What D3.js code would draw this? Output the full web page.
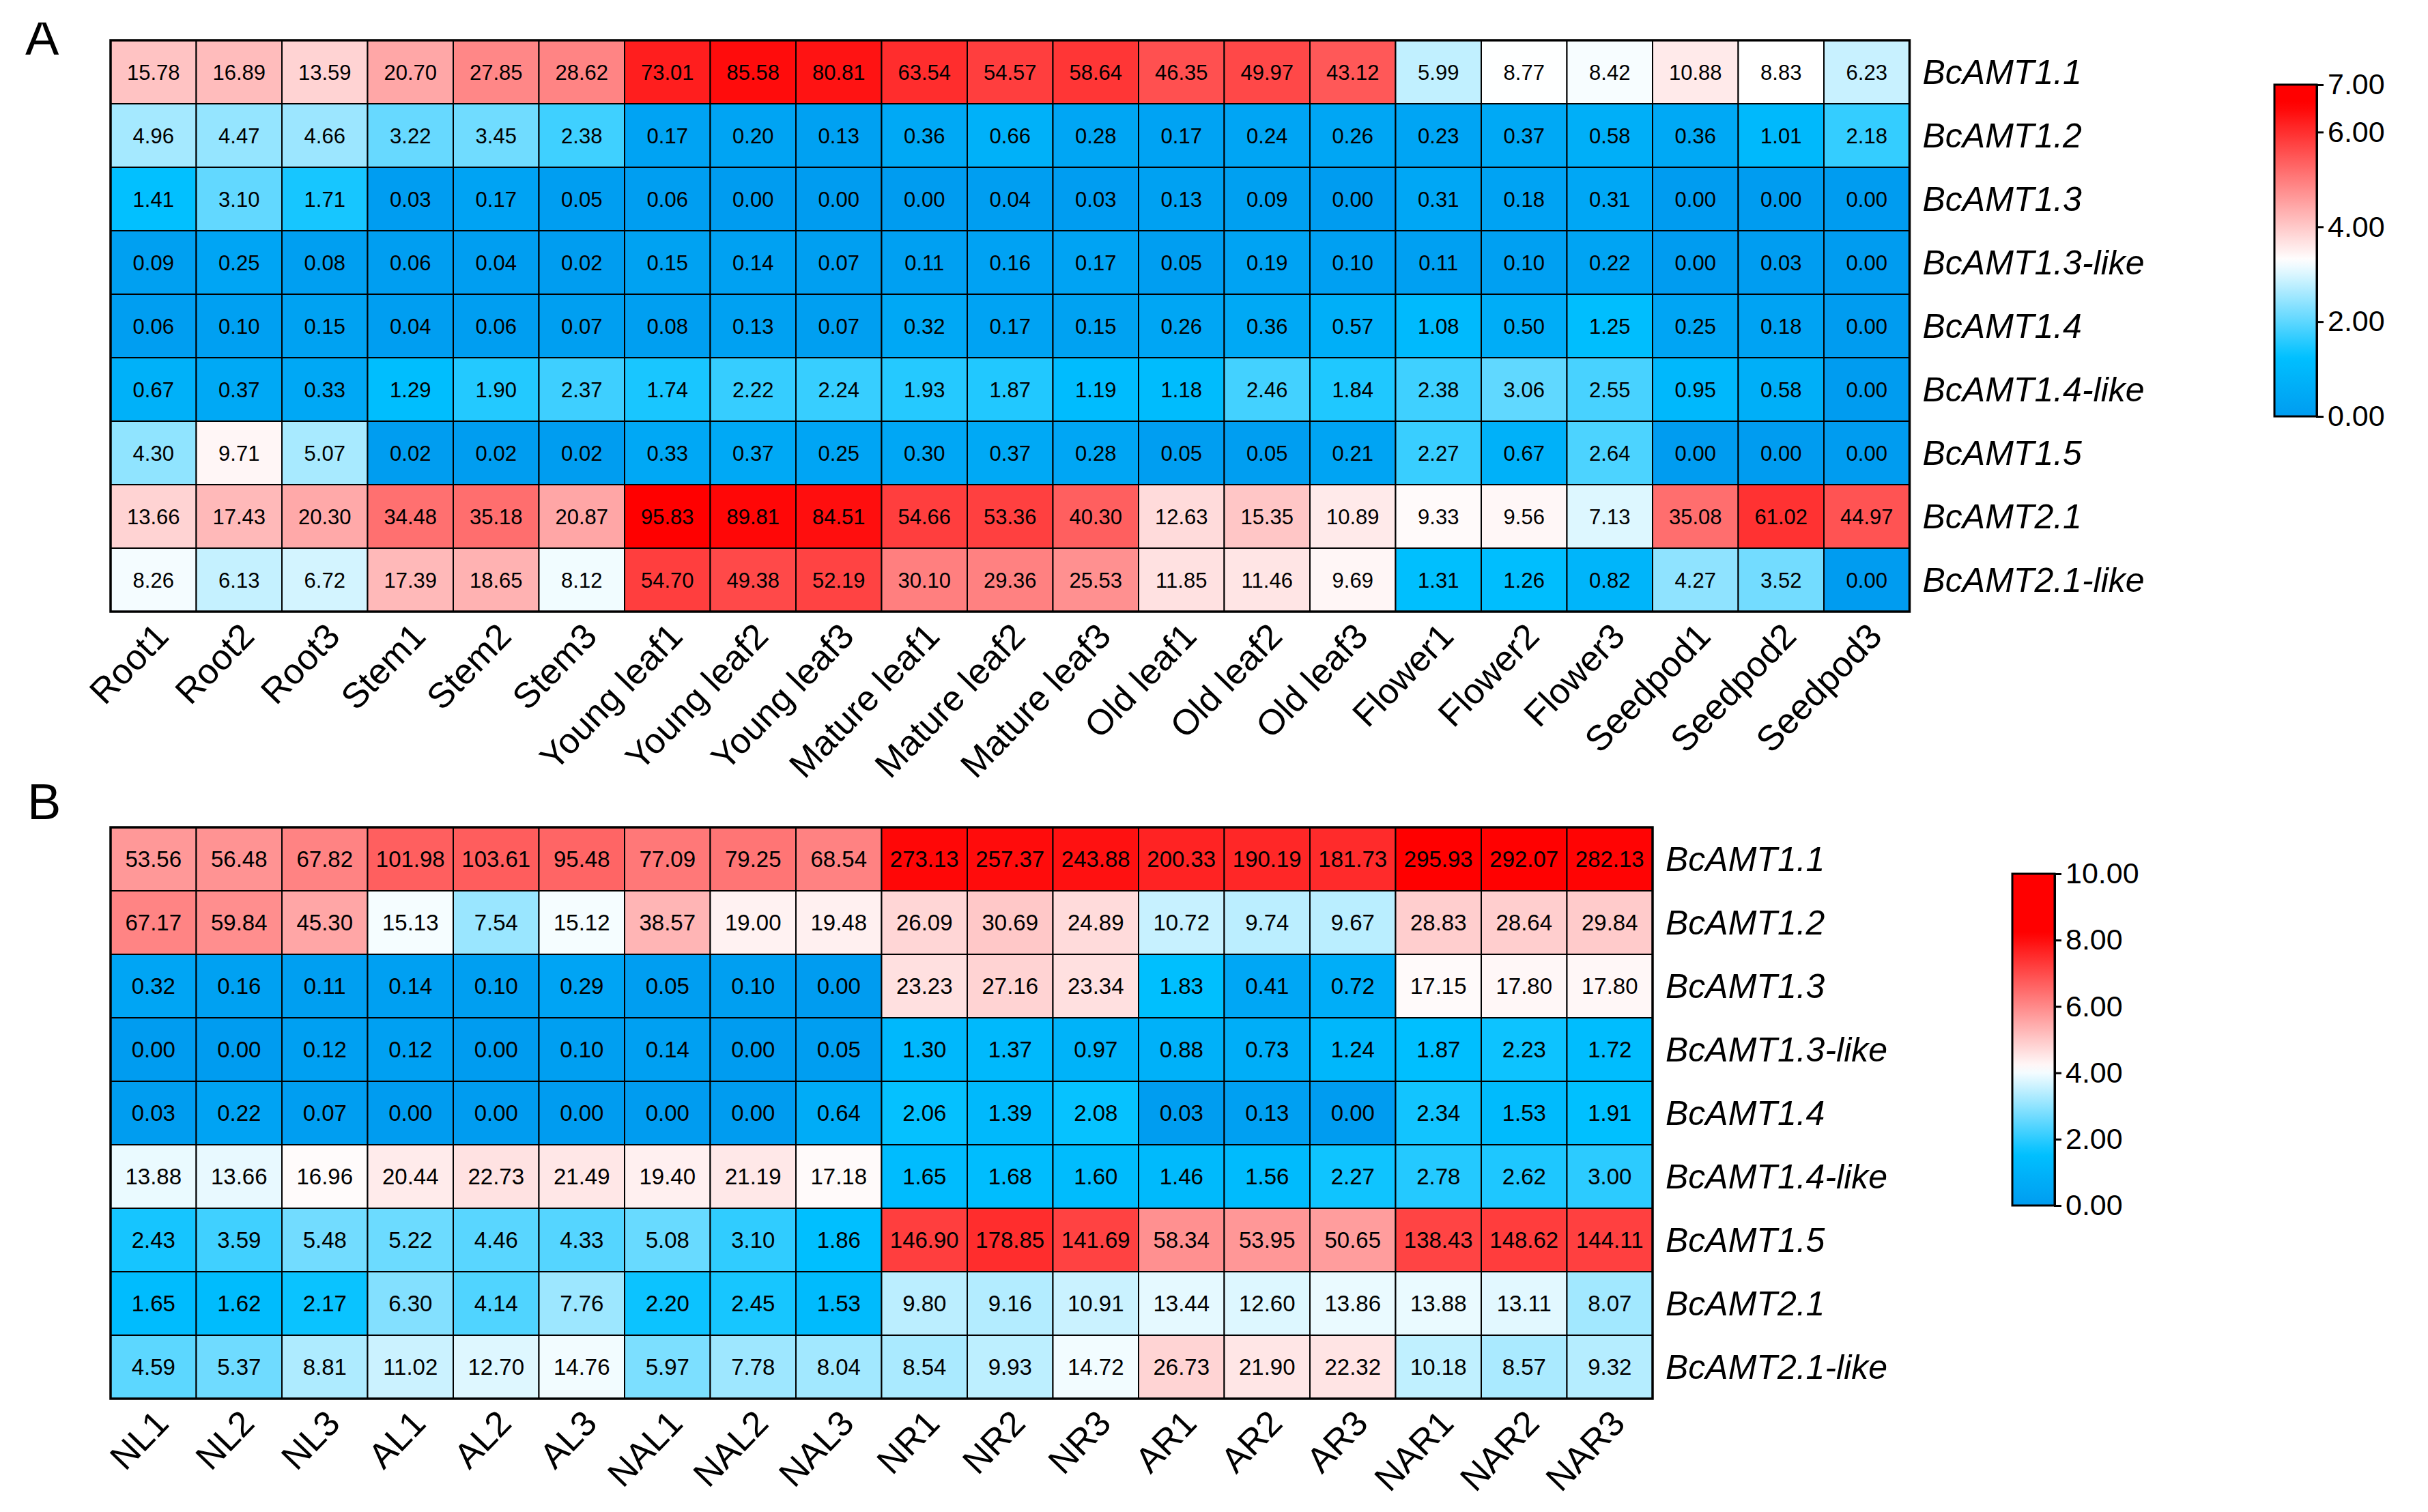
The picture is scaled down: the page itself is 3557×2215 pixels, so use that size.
<!DOCTYPE html>
<html>
<head>
<meta charset="utf-8">
<script src="https://cdn.jsdelivr.net/npm/d3@7"></script>
<style>
  html, body { margin: 0; padding: 0; background: #ffffff; }
  svg { display: block; }
</style>
</head>
<body>
<script>
// ---------------- DATA ----------------
const genes = ["BcAMT1.1","BcAMT1.2","BcAMT1.3","BcAMT1.3-like","BcAMT1.4","BcAMT1.4-like","BcAMT1.5","BcAMT2.1","BcAMT2.1-like"];

const tissues = ["Root1","Root2","Root3","Stem1","Stem2","Stem3","Young leaf1","Young leaf2","Young leaf3",
  "Mature leaf1","Mature leaf2","Mature leaf3","Old leaf1","Old leaf2","Old leaf3",
  "Flower1","Flower2","Flower3","Seedpod1","Seedpod2","Seedpod3"];

const tissueValues = [
  [15.78,16.89,13.59,20.70,27.85,28.62,73.01,85.58,80.81,63.54,54.57,58.64,46.35,49.97,43.12,5.99,8.77,8.42,10.88,8.83,6.23],
  [4.96,4.47,4.66,3.22,3.45,2.38,0.17,0.20,0.13,0.36,0.66,0.28,0.17,0.24,0.26,0.23,0.37,0.58,0.36,1.01,2.18],
  [1.41,3.10,1.71,0.03,0.17,0.05,0.06,0.00,0.00,0.00,0.04,0.03,0.13,0.09,0.00,0.31,0.18,0.31,0.00,0.00,0.00],
  [0.09,0.25,0.08,0.06,0.04,0.02,0.15,0.14,0.07,0.11,0.16,0.17,0.05,0.19,0.10,0.11,0.10,0.22,0.00,0.03,0.00],
  [0.06,0.10,0.15,0.04,0.06,0.07,0.08,0.13,0.07,0.32,0.17,0.15,0.26,0.36,0.57,1.08,0.50,1.25,0.25,0.18,0.00],
  [0.67,0.37,0.33,1.29,1.90,2.37,1.74,2.22,2.24,1.93,1.87,1.19,1.18,2.46,1.84,2.38,3.06,2.55,0.95,0.58,0.00],
  [4.30,9.71,5.07,0.02,0.02,0.02,0.33,0.37,0.25,0.30,0.37,0.28,0.05,0.05,0.21,2.27,0.67,2.64,0.00,0.00,0.00],
  [13.66,17.43,20.30,34.48,35.18,20.87,95.83,89.81,84.51,54.66,53.36,40.30,12.63,15.35,10.89,9.33,9.56,7.13,35.08,61.02,44.97],
  [8.26,6.13,6.72,17.39,18.65,8.12,54.70,49.38,52.19,30.10,29.36,25.53,11.85,11.46,9.69,1.31,1.26,0.82,4.27,3.52,0.00]
];

const treatments = ["NL1","NL2","NL3","AL1","AL2","AL3","NAL1","NAL2","NAL3","NR1","NR2","NR3","AR1","AR2","AR3","NAR1","NAR2","NAR3"];

const treatmentValues = [
  [53.56,56.48,67.82,101.98,103.61,95.48,77.09,79.25,68.54,273.13,257.37,243.88,200.33,190.19,181.73,295.93,292.07,282.13],
  [67.17,59.84,45.30,15.13,7.54,15.12,38.57,19.00,19.48,26.09,30.69,24.89,10.72,9.74,9.67,28.83,28.64,29.84],
  [0.32,0.16,0.11,0.14,0.10,0.29,0.05,0.10,0.00,23.23,27.16,23.34,1.83,0.41,0.72,17.15,17.80,17.80],
  [0.00,0.00,0.12,0.12,0.00,0.10,0.14,0.00,0.05,1.30,1.37,0.97,0.88,0.73,1.24,1.87,2.23,1.72],
  [0.03,0.22,0.07,0.00,0.00,0.00,0.00,0.00,0.64,2.06,1.39,2.08,0.03,0.13,0.00,2.34,1.53,1.91],
  [13.88,13.66,16.96,20.44,22.73,21.49,19.40,21.19,17.18,1.65,1.68,1.60,1.46,1.56,2.27,2.78,2.62,3.00],
  [2.43,3.59,5.48,5.22,4.46,4.33,5.08,3.10,1.86,146.90,178.85,141.69,58.34,53.95,50.65,138.43,148.62,144.11],
  [1.65,1.62,2.17,6.30,4.14,7.76,2.20,2.45,1.53,9.80,9.16,10.91,13.44,12.60,13.86,13.88,13.11,8.07],
  [4.59,5.37,8.81,11.02,12.70,14.76,5.97,7.78,8.04,8.54,9.93,14.72,26.73,21.90,22.32,10.18,8.57,9.32]
];

const legendTicksA = [0, 2, 4, 6, 7];
const legendTicksB = [0, 2, 4, 6, 8, 10];

// ---------------- LAYOUT ----------------
const W = 3557, H = 2215;
const FONT = "'Liberation Sans', Arial, Helvetica, sans-serif";

const svg = d3.select("body").append("svg")
  .attr("width", W).attr("height", H)
  .attr("viewBox", `0 0 ${W} ${H}`)
  .style("background", "#ffffff");

const defs = svg.append("defs");
defs.append("clipPath").attr("id", "clipA")
  .append("rect").attr("x", 0).attr("y", 33).attr("width", 200).attr("height", 200);

function drawPanel(o) {
  const g = svg.append("g");
  const cw = 125.5, ch = 93;
  const x = d3.scaleBand().domain(o.cols).range([o.left, o.left + o.cols.length * cw]);
  const y = d3.scaleBand().domain(o.rows).range([o.top, o.top + o.rows.length * ch]);

  const maxL = d3.max(o.values.flat(), v => Math.log2(v + 1));
  const color = d3.scaleLinear()
    .domain([0, 0.19 * maxL, 0.5 * maxL, maxL])
    .range(["#009cf0", "#00c0ff", "#ffffff", "#ff0000"])
    .clamp(true);

  const cells = [];
  o.values.forEach((row, ri) => row.forEach((v, ci) => cells.push({ r: o.rows[ri], c: o.cols[ci], v })));

  g.selectAll("rect.cell").data(cells).join("rect")
    .attr("class", "cell")
    .attr("x", d => x(d.c)).attr("y", d => y(d.r))
    .attr("width", x.bandwidth()).attr("height", y.bandwidth())
    .attr("fill", d => color(Math.log2(d.v + 1)))
    .attr("stroke", "#000").attr("stroke-width", 2);

  g.selectAll("text.val").data(cells).join("text")
    .attr("class", "val")
    .attr("x", d => x(d.c) + x.bandwidth() / 2)
    .attr("y", d => y(d.r) + y.bandwidth() / 2)
    .attr("dy", "0.36em")
    .attr("text-anchor", "middle")
    .attr("font-family", FONT)
    .attr("font-size", o.valueSize)
    .attr("fill", "#000")
    .text(d => d.v.toFixed(2));

  const [x0, x1] = x.range(), [y0, y1] = y.range();
  g.append("rect")
    .attr("x", x0).attr("y", y0).attr("width", x1 - x0).attr("height", y1 - y0)
    .attr("fill", "none").attr("stroke", "#000").attr("stroke-width", 3.5);

  // column labels (bottom)
  const xa = g.append("g").attr("transform", `translate(0,${y1})`)
    .call(d3.axisBottom(x).tickSize(0).tickPadding(0));
  xa.select(".domain").remove();
  xa.selectAll("text")
    .attr("font-family", FONT).attr("font-size", 52).attr("fill", "#000")
    .attr("text-anchor", "end")
    .attr("x", 0).attr("y", 0).attr("dy", "0.35em")
    .attr("transform", "translate(12,26) rotate(-46)");

  // row labels (right)
  const ya = g.append("g").attr("transform", `translate(${x1},0)`)
    .call(d3.axisRight(y).tickSize(0).tickPadding(19));
  ya.select(".domain").remove();
  ya.selectAll("text")
    .attr("font-family", FONT).attr("font-size", 50).attr("font-style", "italic")
    .attr("fill", "#000").attr("dy", "0.35em");

  // legend
  const gid = "grad" + o.id;
  const grad = defs.append("linearGradient").attr("id", gid)
    .attr("x1", 0).attr("y1", 1).attr("x2", 0).attr("y2", 0);
  d3.range(0, 41).forEach(i => {
    const t = i / 40;
    grad.append("stop").attr("offset", t).attr("stop-color", color(t * o.legMax));
  });
  const ls = d3.scaleLinear().domain([0, o.legMax]).range([o.legBottom, o.legTop]);
  const lw = 62;
  g.append("rect")
    .attr("x", o.legX).attr("y", o.legTop).attr("width", lw).attr("height", o.legBottom - o.legTop)
    .attr("fill", `url(#${gid})`).attr("stroke", "#000").attr("stroke-width", 3);
  const la = g.append("g").attr("transform", `translate(${o.legX + lw},0)`)
    .call(d3.axisRight(ls).tickValues(o.legTicks).tickFormat(d3.format(".2f")).tickSize(10).tickPadding(6));
  la.select(".domain").attr("stroke", "#000").attr("stroke-width", 3);
  la.selectAll(".tick line").attr("stroke", "#000").attr("stroke-width", 3);
  la.selectAll("text").attr("font-family", FONT).attr("font-size", 43).attr("fill", "#000");

  // panel letter
  const lt = svg.append("text")
    .attr("x", o.letterX).attr("y", o.letterY)
    .attr("font-family", FONT).attr("font-size", 74).attr("fill", "#000")
    .text(o.letter);
  if (o.clip) lt.attr("clip-path", `url(#${o.clip})`);
}

drawPanel({
  id: "A", rows: genes, cols: tissues, values: tissueValues,
  left: 162, top: 59, valueSize: 31,
  legX: 3332, legTop: 124, legBottom: 610, legMax: 7, legTicks: legendTicksA,
  letter: "A", letterX: 37, letterY: 80, clip: "clipA"
});

drawPanel({
  id: "B", rows: genes, cols: treatments, values: treatmentValues,
  left: 162, top: 1212, valueSize: 33,
  legX: 2948, legTop: 1280, legBottom: 1766, legMax: 10, legTicks: legendTicksB,
  letter: "B", letterX: 40, letterY: 1200
});
</script>
</body>
</html>
